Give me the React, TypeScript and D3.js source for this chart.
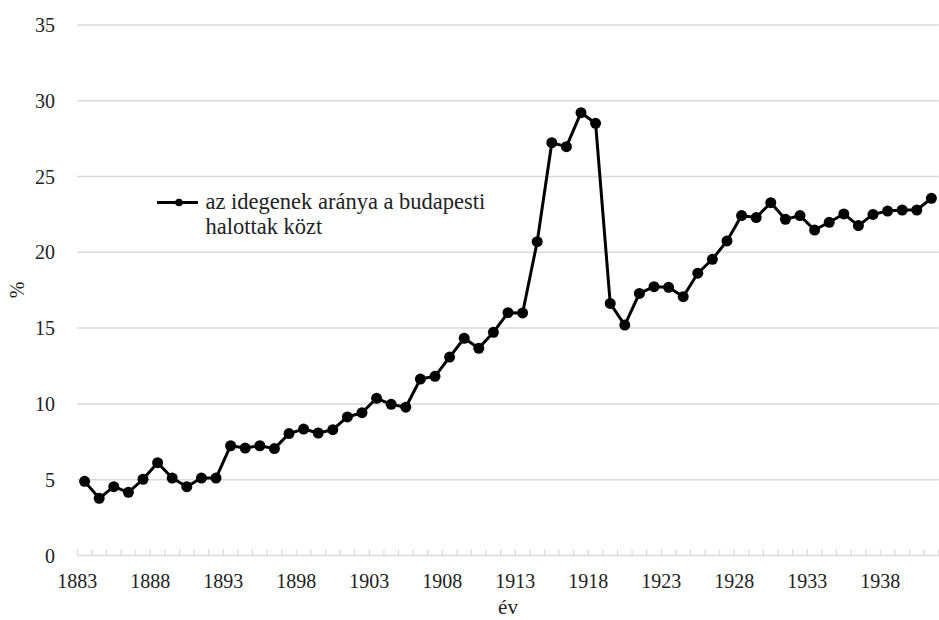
import React, { useEffect, useRef } from 'react';
import * as d3 from 'd3';

// years on the category axis
const years = d3.range(1883, 1942);

// share of non-residents among the deceased in Budapest (%)
const values = [
  4.89, 3.77, 4.54, 4.17, 5.03, 6.12, 5.11, 4.54, 5.11, 5.11,
  7.24, 7.09, 7.24, 7.05, 8.04, 8.34, 8.08, 8.3, 9.14, 9.42,
  10.37, 9.97, 9.78, 11.64, 11.82, 13.09, 14.33, 13.67, 14.72, 16.02,
  16.0, 20.7, 27.23, 26.97, 29.21, 28.51, 16.63, 15.2, 17.29, 17.73,
  17.69, 17.07, 18.62, 19.54, 20.75, 22.42, 22.29, 23.27, 22.18, 22.42,
  21.47, 21.98, 22.53, 21.76, 22.5, 22.72, 22.79, 22.79, 23.56,
];

const yTicks = [0, 5, 10, 15, 20, 25, 30, 35];
const labelYears = [1883, 1888, 1893, 1898, 1903, 1908, 1913, 1918, 1923, 1928, 1933, 1938];
const seriesName = ['az idegenek aránya a budapesti', 'halottak közt'];

export default function App() {
  const ref = useRef<SVGSVGElement>(null);

  useEffect(() => {
    const width = 939;
    const height = 620;
    const font = "'Times New Roman', 'Liberation Serif', 'DejaVu Serif', serif";
    const grid = '#d9d9d9';

    const svg = d3.select(ref.current);
    svg.selectAll('*').remove();
    svg.attr('width', width).attr('height', height);

    const x = d3.scaleBand<number>().domain(years).range([77.3, 938.7]).padding(0);
    const y = d3.scaleLinear().domain([0, 35]).range([555.5, 24.9]);

    // horizontal gridlines
    svg.append('g')
      .selectAll('line')
      .data(yTicks.filter(d => d > 0))
      .join('line')
      .attr('x1', 77.3)
      .attr('x2', 938.7)
      .attr('y1', d => y(d))
      .attr('y2', d => y(d))
      .attr('stroke', grid)
      .attr('stroke-width', 1.5);

    // x axis line + minor ticks at category boundaries
    svg.append('line')
      .attr('x1', 77.3).attr('x2', 938.7)
      .attr('y1', y(0)).attr('y2', y(0))
      .attr('stroke', grid).attr('stroke-width', 1.5);

    const bounds = years.map(d => x(d)!).concat([x(years[years.length - 1])! + x.bandwidth()]);
    svg.append('g')
      .selectAll('line')
      .data(bounds)
      .join('line')
      .attr('x1', d => d).attr('x2', d => d)
      .attr('y1', y(0)).attr('y2', y(0) - 6)
      .attr('stroke', grid).attr('stroke-width', 1.2);

    const text = (sel: any, size = 20) => sel
      .attr('font-family', font)
      .attr('font-size', size)
      .attr('fill', '#222');

    // y tick labels
    svg.append('g')
      .selectAll('text')
      .data(yTicks)
      .join('text')
      .attr('x', 55)
      .attr('y', d => y(d))
      .attr('dy', '0.35em')
      .attr('text-anchor', 'end')
      .call(text)
      .text(d => d);

    // x tick labels sit on the boundary ticks
    svg.append('g')
      .selectAll('text')
      .data(labelYears)
      .join('text')
      .attr('x', d => x(d)!)
      .attr('y', 588)
      .attr('text-anchor', 'middle')
      .call(text)
      .text(d => d);

    // axis titles
    svg.append('text')
      .attr('transform', `translate(24,290) rotate(-90)`)
      .attr('text-anchor', 'middle')
      .call(text)
      .text('%');

    svg.append('text')
      .attr('x', 508)
      .attr('y', 614)
      .attr('text-anchor', 'middle')
      .call(text, 21)
      .text('év');

    // the series
    const cx = (i: number) => x(years[i])! + x.bandwidth() / 2;
    const line = d3.line<number>()
      .x((_, i) => cx(i))
      .y(d => y(d));

    svg.append('path')
      .datum(values)
      .attr('fill', 'none')
      .attr('stroke', '#000')
      .attr('stroke-width', 3)
      .attr('stroke-linejoin', 'round')
      .attr('d', line);

    svg.append('g')
      .selectAll('circle')
      .data(values)
      .join('circle')
      .attr('cx', (_, i) => cx(i))
      .attr('cy', d => y(d))
      .attr('r', 5.5)
      .attr('fill', '#000');

    // legend
    const lg = svg.append('g');
    lg.append('line')
      .attr('x1', 157).attr('x2', 198)
      .attr('y1', 202.5).attr('y2', 202.5)
      .attr('stroke', '#000').attr('stroke-width', 3);
    lg.append('circle')
      .attr('cx', 179).attr('cy', 202.5).attr('r', 3.8)
      .attr('fill', '#000');
    lg.append('g')
      .selectAll('text')
      .data(seriesName)
      .join('text')
      .attr('x', 205.5)
      .attr('y', (_, i) => 209 + i * 25)
      .call(text, 22.5)
      .text(d => d);
  }, []);

  return (
    <svg ref={ref} style={{ position: 'absolute', left: 0, top: 0 }}></svg>
  );
}
